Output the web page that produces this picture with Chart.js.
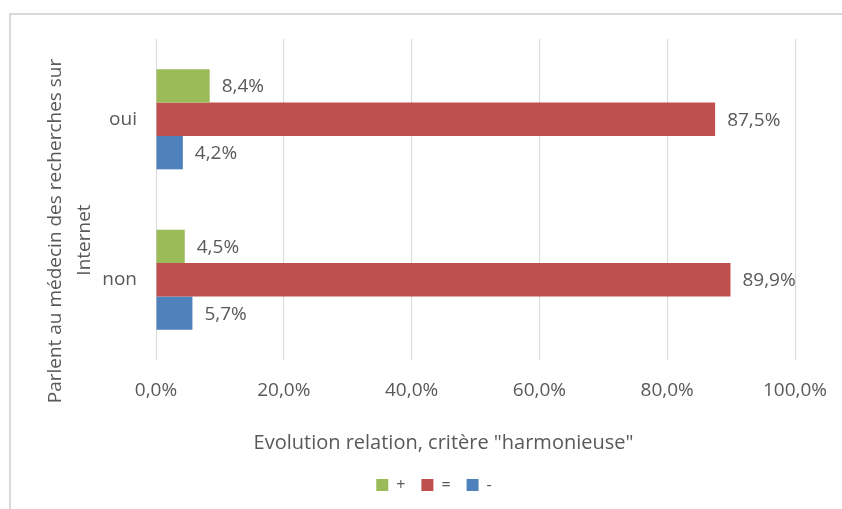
<!DOCTYPE html>
<html><head><meta charset="utf-8">
<script src="https://cdn.jsdelivr.net/npm/chart.js@4/dist/chart.umd.min.js"></script>
<style>
html,body{margin:0;padding:0;background:#fff;}
#wrap{position:relative;width:842px;height:509px;overflow:hidden;}
#frame{position:absolute;left:9px;top:13px;width:850px;height:510px;border-top:2px solid #d9d9d9;border-left:2px solid #d9d9d9;}
canvas{position:absolute;left:0;top:0;}
</style></head><body>
<div id="wrap"><div id="frame"></div><canvas id="c" width="842" height="509"></canvas></div>
<script>
const categories = ['oui', 'non'];
const seriesNames = ['+', '=', '-'];
const plusValues = [8.4, 4.5];
const equalValues = [87.5, 89.9];
const minusValues = [4.2, 5.7];
const xTickValues = [0, 20, 40, 60, 80, 100];
const yTitleLines = ['Parlent au médecin des recherches sur', 'Internet'];
const xTitleText = 'Evolution relation, critère "harmonieuse"';

const FONT = "'Open Sans', 'Noto Sans', sans-serif";
const TEXT = '#595959';
const fmt = v => v.toFixed(1).replace('.', ',') + '%';

const dataLabels = {
  id: 'dataLabels',
  afterDatasetsDraw(chart) {
    const ctx = chart.ctx;
    ctx.save();
    ctx.font = '19px ' + FONT;
    ctx.fillStyle = TEXT;
    ctx.textAlign = 'left';
    ctx.textBaseline = 'middle';
    chart.data.datasets.forEach((ds, i) => {
      chart.getDatasetMeta(i).data.forEach((el, j) => {
        ctx.fillText(fmt(ds.data[j]), el.x + 12, el.y + 1);
      });
    });
    ctx.restore();
  }
};

const axisTitles = {
  id: 'axisTitles',
  afterDraw(chart) {
    const ctx = chart.ctx;
    ctx.save();
    ctx.fillStyle = TEXT;
    ctx.textAlign = 'center';
    ctx.textBaseline = 'middle';
    ctx.font = '19px ' + FONT;
    const ys = [231, 240];
    [56, 85].forEach((x, i) => {
      ctx.save();
      ctx.translate(x, ys[i]);
      ctx.rotate(-Math.PI / 2);
      ctx.fillText(yTitleLines[i], 0, 0);
      ctx.restore();
    });
    ctx.font = '20px ' + FONT;
    ctx.fillText(xTitleText, 443.5, 443);
    ctx.restore();
  }
};

new Chart(document.getElementById('c'), {
  type: 'bar',
  data: {
    labels: categories,
    datasets: [
      { label: seriesNames[0], data: plusValues, backgroundColor: '#9BBB59' },
      { label: seriesNames[1], data: equalValues, backgroundColor: '#C0504D' },
      { label: seriesNames[2], data: minusValues, backgroundColor: '#4F81BD' }
    ]
  },
  options: {
    indexAxis: 'y',
    responsive: false,
    animation: false,
    devicePixelRatio: 1,
    categoryPercentage: 0.624,
    barPercentage: 1,
    layout: { padding: { left: 73, top: 39, right: 47, bottom: 6 } },
    plugins: {
      legend: {
        position: 'bottom',
        labels: {
          font: { size: 16, family: FONT },
          color: TEXT,
          boxWidth: 12,
          boxHeight: 12,
          padding: 16
        }
      },
      tooltip: { enabled: false }
    },
    scales: {
      x: {
        min: 0, max: 100,
        afterBuildTicks(scale) { scale.ticks = xTickValues.map(v => ({ value: v })); },
        afterFit(scale) { scale.height = 101; scale.paddingLeft = 0; scale.paddingRight = 0; },
        ticks: {
          callback: v => fmt(v),
          font: { size: 19, family: FONT },
          color: TEXT,
          padding: 19
        },
        grid: { color: '#D9D9D9', drawTicks: false, lineWidth: 1 },
        border: { display: false }
      },
      y: {
        afterFit(scale) { scale.width = 83; },
        ticks: {
          font: { size: 19, family: FONT },
          color: TEXT,
          padding: 19
        },
        grid: { display: false, drawTicks: false },
        border: { display: false }
      }
    }
  },
  plugins: [dataLabels, axisTitles]
});
</script>
</body></html>
